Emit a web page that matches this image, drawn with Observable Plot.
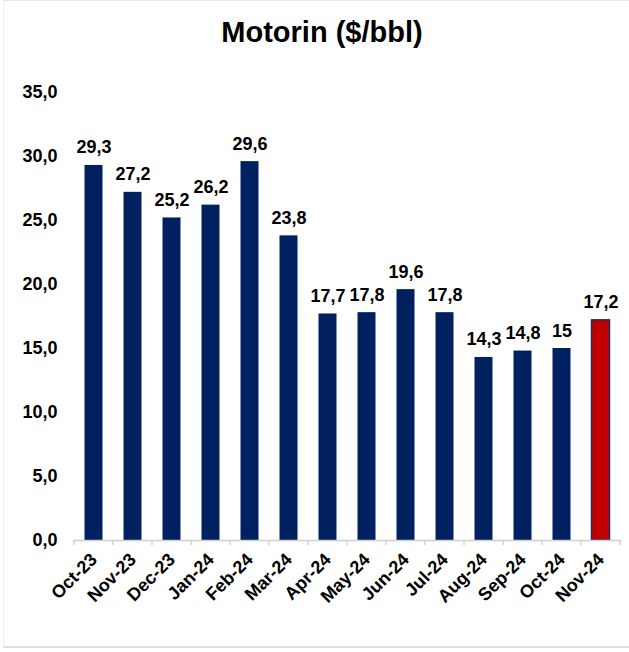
<!DOCTYPE html>
<html>
<head>
<meta charset="utf-8">
<script src="https://cdn.jsdelivr.net/npm/d3@7"></script>
<script src="https://cdn.jsdelivr.net/npm/@observablehq/plot@0.6"></script>
<style>
  html, body { margin: 0; padding: 0; background: #fff; }
  body { width: 629px; height: 652px; overflow: hidden; font-family: "Liberation Sans", Arial, sans-serif; position: relative; }
  #frame { position: absolute; left: 3px; top: 0; width: 640px; height: 648px; border-top: 1.5px solid #e6e6e6; border-left: 1px solid #f0f0f0; border-bottom: 2px solid #e0e0e0; box-sizing: border-box; pointer-events: none; }
  #title { font-weight: bold; font-size: 29px; line-height: 32px; padding-top: 16px; height: 32px; margin-bottom: 14px; text-align: center; padding-left: 15px; color: #000; }
  svg { display: block; }
</style>
</head>
<body>
<div id="frame"></div>
<div id="title">Motorin ($/bbl)</div>
<div id="chart"></div>
<script>
const months = ["Oct-23","Nov-23","Dec-23","Jan-24","Feb-24","Mar-24","Apr-24","May-24","Jun-24","Jul-24","Aug-24","Sep-24","Oct-24","Nov-24"];
const values = [29.3, 27.2, 25.2, 26.2, 29.6, 23.8, 17.7, 17.8, 19.6, 17.8, 14.3, 14.8, 15, 17.2];
const highlight = ["Nov-24"];
const yTicks = [0, 5, 10, 15, 20, 25, 30, 35];

const data = months.map((m, i) => ({month: m, value: values[i]}));
const fmt = v => Number.isInteger(v) ? String(v) : v.toFixed(1).replace(".", ",");
const fmtTick = v => v.toFixed(1).replace(".", ",");

const W = 629, H = 590;
const plot = Plot.plot({
  width: W,
  height: H,
  marginLeft: 73,
  marginRight: 8,
  marginTop: 30,
  marginBottom: 112,
  style: {fontFamily: '"Liberation Sans", Arial, sans-serif', fontWeight: "bold", color: "#000", background: "#fff"},
  x: {domain: months, padding: 0, label: null},
  y: {domain: [0, 35], label: null},
  marks: [
    Plot.axisY({ticks: yTicks, tickFormat: fmtTick, tickSize: 0, tickPadding: 16, fontSize: 18, fontWeight: "bold", fill: "#000", label: null}),
    Plot.axisX({tickSize: 0, tickPadding: 16, tickRotate: -45, fontSize: 18, fontWeight: "bold", fill: "#000", label: null}),
    Plot.barY(data, {
      x: "month", y: "value",
      fill: d => highlight.includes(d.month) ? "#C00000" : "#002060",
      stroke: d => highlight.includes(d.month) ? "#1f2f66" : "none",
      strokeWidth: 1.5,
      insetLeft: 10.5, insetRight: 10.5
    }),
    Plot.text(data, {
      x: "month", y: "value", text: d => fmt(d.value),
      lineAnchor: "bottom", dy: -12, fontSize: 18, fontWeight: "bold", fill: "#000"
    }),
    Plot.ruleY([0], {stroke: "#d0d0d0", strokeWidth: 1.5})
  ]
});

// band-boundary tick marks on the x axis, positioned via Plot's x scale
const xs = plot.scale("x");
const ys = plot.scale("y");
const y0 = ys.apply(0);
const bounds = months.map(m => xs.apply(m));
bounds.push(xs.apply(months[months.length - 1]) + xs.step);
d3.select(plot).append("g")
  .selectAll("line").data(bounds).join("line")
  .attr("x1", d => d).attr("x2", d => d)
  .attr("y1", y0).attr("y2", y0 + 5)
  .attr("stroke", "#d0d0d0").attr("stroke-width", 1.5);

document.getElementById("chart").appendChild(plot);
</script>
</body>
</html>
